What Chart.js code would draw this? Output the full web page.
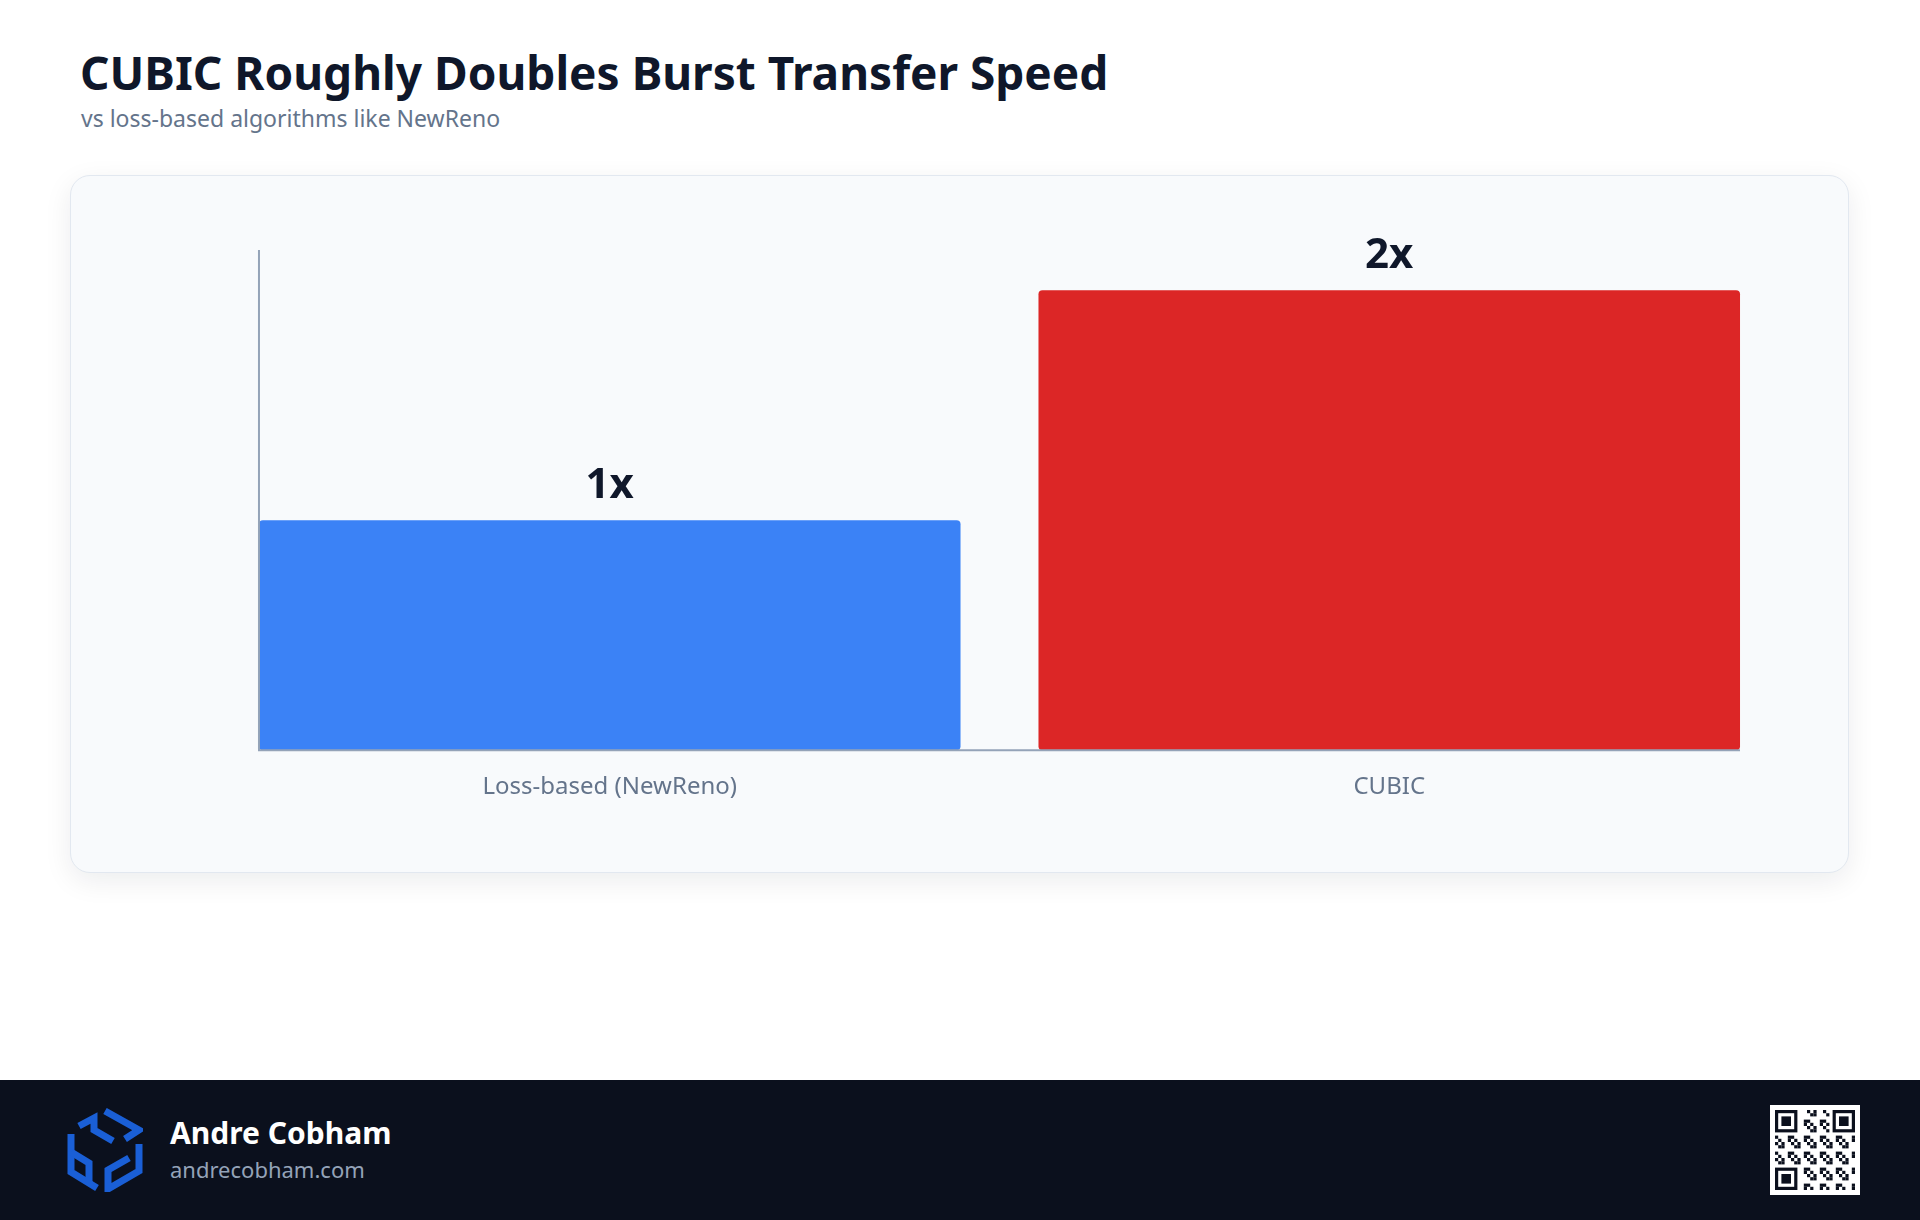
<!DOCTYPE html>
<html>
<head>
<meta charset="utf-8">
<script src="https://cdn.jsdelivr.net/npm/chart.js@4.4.1/dist/chart.umd.min.js"></script>
<style>
  html, body { margin: 0; padding: 0; }
  body { width: 1920px; height: 1220px; background: #ffffff; position: relative; overflow: hidden; font-family: "Noto Sans", sans-serif; }
  .title { position: absolute; left: 80px; top: 49px; font-size: 46px; line-height: 1; font-weight: 700; color: #0f172a; white-space: nowrap; }
  .subtitle { position: absolute; left: 81px; top: 107px; font-size: 23px; line-height: 1; color: #64748b; white-space: nowrap; }
  .card { position: absolute; left: 70px; top: 175px; width: 1779px; height: 698px; box-sizing: border-box; background: #f8fafc; border: 1px solid #e2e8f0; border-radius: 20px; box-shadow: 0 8px 28px rgba(15, 23, 42, 0.08); }
  .card canvas { position: absolute; left: 0; top: 0; }
  .footer { position: absolute; left: 0; top: 1080px; width: 1920px; height: 140px; background: #0b101d; }
  .logo { position: absolute; left: 67px; top: 28px; }
  .name { position: absolute; left: 170px; top: 38px; font-size: 30px; line-height: 1; font-weight: 700; color: #ffffff; white-space: nowrap; }
  .site { position: absolute; left: 170px; top: 78px; font-size: 22px; line-height: 1; color: #94a3b8; white-space: nowrap; }
  .qr { position: absolute; left: 1770px; top: 25px; }
</style>
</head>
<body>
  <div class="title">CUBIC Roughly Doubles Burst Transfer Speed</div>
  <div class="subtitle">vs loss-based algorithms like NewReno</div>

  <div class="card">
    <canvas id="speedChart" width="1777" height="696"></canvas>
  </div>

  <div class="footer">
    <svg class="logo" width="76" height="84" viewBox="0 0 76 84">
      <g fill="none" stroke="#1a5fd6" stroke-width="7" stroke-linejoin="miter">
        <path d="M4 26 L4 64 L30 80" />
        <path d="M4 44 L22 55 L22 76" />
        <path d="M12 18 L27 10 L27 22 L46 33" />
        <path d="M38 3 L72 22 L58 31" />
        <path d="M72 36 L72 63 L41 81 L41 62 L62 50" />
      </g>
    </svg>
    <div class="name">Andre Cobham</div>
    <div class="site">andrecobham.com</div>
    <canvas class="qr" id="qr" width="90" height="90"></canvas>
  </div>

<script>
// ─── Chart data ─────────────────────────────────────────────
const categories = ['Loss-based (NewReno)', 'CUBIC'];
const speedMultiplier = [1, 2];
const valueLabels = ['1x', '2x'];
const barColors = ['#3b82f6', '#dc2626'];

// axis lines hug the bars, value labels sit above each bar
const axisAndLabels = {
  id: 'axisAndLabels',
  afterDatasetsDraw(chart) {
    const ctx = chart.ctx;
    const y = chart.scales.y;
    const bars = chart.getDatasetMeta(0).data;
    const first = bars[0];
    const last = bars[bars.length - 1];
    const left = first.x - first.width / 2;
    const right = last.x + last.width / 2;
    const base = y.getPixelForValue(0);

    ctx.save();
    ctx.strokeStyle = '#94a3b8';
    ctx.lineWidth = 2;
    ctx.beginPath();
    ctx.moveTo(left, chart.chartArea.top);
    ctx.lineTo(left, base);
    ctx.lineTo(right, base);
    ctx.stroke();

    ctx.fillStyle = '#0f172a';
    ctx.font = 'bold 42px "Noto Sans"';
    ctx.textAlign = 'center';
    ctx.textBaseline = 'alphabetic';
    bars.forEach((bar, i) => {
      ctx.fillText(valueLabels[i], bar.x, bar.y - 22);
    });
    ctx.restore();
  }
};

const chartCtx = document.getElementById('speedChart').getContext('2d');
new Chart(chartCtx, {
  type: 'bar',
  data: {
    labels: categories,
    datasets: [{
      data: speedMultiplier,
      backgroundColor: barColors,
      borderWidth: 0,
      borderRadius: 4,
      borderSkipped: false,
      barPercentage: 0.9,
      categoryPercentage: 1
    }]
  },
  options: {
    responsive: false,
    animation: false,
    devicePixelRatio: 1,
    layout: { padding: { left: 149, right: 69, top: 74, bottom: 47 } },
    plugins: {
      legend: { display: false },
      tooltip: { enabled: false }
    },
    scales: {
      x: {
        grid: { display: false, drawTicks: false },
        border: { display: false },
        ticks: {
          color: '#64748b',
          padding: 23,
          font: { family: 'Noto Sans', size: 24 }
        }
      },
      y: {
        min: 0,
        max: 2.175,
        grid: { display: false, drawTicks: false },
        border: { display: false },
        ticks: { display: false }
      }
    }
  },
  plugins: [axisAndLabels]
});

// ─── Footer QR mark ─────────────────────────────────────────
(function drawQr() {
  const c = document.getElementById('qr').getContext('2d');
  const n = 25, m = 3.2, off = 5;
  c.fillStyle = '#ffffff';
  c.fillRect(0, 0, 90, 90);
  c.fillStyle = '#0b101d';
  const finder = (fx, fy) => {
    c.fillRect(off + fx * m, off + fy * m, 7 * m, 7 * m);
    c.fillStyle = '#ffffff';
    c.fillRect(off + (fx + 1) * m, off + (fy + 1) * m, 5 * m, 5 * m);
    c.fillStyle = '#0b101d';
    c.fillRect(off + (fx + 2) * m, off + (fy + 2) * m, 3 * m, 3 * m);
  };
  for (let r = 0; r < n; r++) {
    for (let col = 0; col < n; col++) {
      const inFinder = (r < 8 && col < 8) || (r < 8 && col > n - 9) || (r > n - 9 && col < 8);
      if (inFinder) continue;
      if (((r * 7 + col * 13 + r * col) % 5) < 2) {
        c.fillRect(off + col * m, off + r * m, m, m);
      }
    }
  }
  finder(0, 0);
  finder(n - 7, 0);
  finder(0, n - 7);
})();
</script>
</body>
</html>
